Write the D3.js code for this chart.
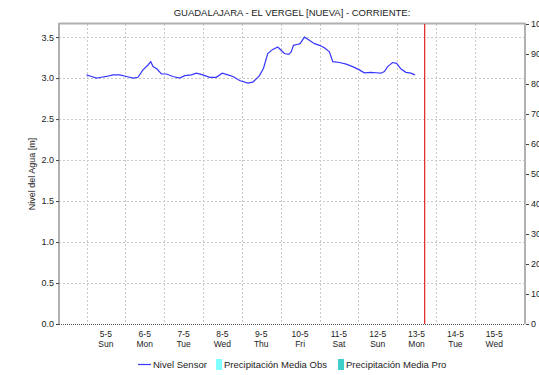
<!DOCTYPE html>
<html>
<head>
<meta charset="utf-8">
<script src="https://cdn.jsdelivr.net/npm/d3@7"></script>
<style>
  body { margin: 0; background: #fff; }
  text { font-family: "Liberation Sans", Arial, sans-serif; fill: #222; }
</style>
</head>
<body>
<div id="chart"></div>
<script>
// horas desde 5-5 00:00, nivel en metros
var horas = [0, 3.1, 6.2, 9.3, 12.3, 16.4, 20.5, 24.7, 28.8, 31.8, 34.9, 38.0, 39.7, 41.1, 43.6, 46.3,
  49.4, 53.4, 57.6, 60.7, 64.8, 67.9, 71.9, 76.1, 80.2, 83.9, 87.4, 90.5, 94.6, 99.7, 102.8,
  106.9, 109.4, 112.0, 115.1, 118.2, 120.3, 122.3, 125.0, 126.5, 127.9, 130.0, 132.0, 134.7,
  136.8, 140.9, 144.0, 147.0, 150.1, 152.2, 156.3, 160.5, 164.5, 168.6, 171.7, 175.8, 178.9,
  182.0, 184.1, 186.1, 189.2, 191.6, 194.4, 197.4, 200.5, 203.0];
var nivel = [3.04, 3.02, 3.00, 3.01, 3.02, 3.04, 3.04, 3.02, 3.00, 3.01, 3.10, 3.16, 3.20, 3.14, 3.11, 3.05,
  3.05, 3.02, 3.00, 3.03, 3.04, 3.06, 3.04, 3.01, 3.01, 3.06, 3.04, 3.02, 2.97, 2.94, 2.95,
  3.03, 3.12, 3.30, 3.35, 3.38, 3.34, 3.30, 3.29, 3.32, 3.40, 3.41, 3.42, 3.50,
  3.475, 3.42, 3.40, 3.37, 3.32, 3.20, 3.19, 3.17, 3.14, 3.10, 3.065, 3.07, 3.065,
  3.06, 3.08, 3.14, 3.19, 3.18, 3.11, 3.07, 3.06, 3.04];

var dias = ["5-5", "6-5", "7-5", "8-5", "9-5", "10-5", "11-5", "12-5", "13-5", "14-5", "15-5"];
var diasSemana = ["Sun", "Mon", "Tue", "Wed", "Thu", "Fri", "Sat", "Sun", "Mon", "Tue", "Wed"];
var ticksIzq = [0, 0.5, 1.0, 1.5, 2.0, 2.5, 3.0, 3.5];
var ticksDer = [0, 10, 20, 30, 40, 50, 60, 70, 80, 90, 100];
var inicioHoras = -17, finHoras = 271, ahoraHoras = 209;

var legendItems = ["Nivel Sensor", "Precipitación Media Obs", "Precipitación Media Pro"];

var margin = {top: 24, right: 14, bottom: 51, left: 59},
    width = 539 - margin.left - margin.right,
    height = 375 - margin.top - margin.bottom;

var x = d3.scaleLinear().domain([inicioHoras, finHoras]).range([0, width]);
var y = d3.scaleLinear().domain([0, 3.66]).range([height, 0]);
var y2 = d3.scaleLinear().domain([0, 100]).range([height, 0]);

var svg = d3.select("#chart").append("svg")
    .attr("width", 539)
    .attr("height", 375);

var g = svg.append("g")
    .attr("transform", "translate(" + margin.left + "," + margin.top + ")");

// grid
g.selectAll(".vgrid")
    .data(dias)
    .enter().append("line")
    .attr("x1", function(d, i) { return Math.round(x(i * 24)) + 0.5; })
    .attr("x2", function(d, i) { return Math.round(x(i * 24)) + 0.5; })
    .attr("y1", 0)
    .attr("y2", height)
    .style("stroke", "#c8c8c8")
    .style("stroke-dasharray", "2,2");

g.selectAll(".hgrid")
    .data(ticksIzq.slice(1))
    .enter().append("line")
    .attr("x1", 0)
    .attr("x2", width)
    .attr("y1", function(d) { return Math.round(y(d)) + 0.5; })
    .attr("y2", function(d) { return Math.round(y(d)) + 0.5; })
    .style("stroke", "#c8c8c8")
    .style("stroke-dasharray", "2,2");

// frame
g.append("line").attr("x1", 0).attr("x2", width).attr("y1", -0.5).attr("y2", -0.5)
    .style("stroke", "#b0b0b0").style("stroke-width", 2);
g.append("line").attr("x1", 0).attr("x2", 0).attr("y1", -1).attr("y2", height)
    .style("stroke", "#b0b0b0").style("stroke-width", 2);
g.append("line").attr("x1", width).attr("x2", width).attr("y1", -1).attr("y2", height)
    .style("stroke", "#b0b0b0").style("stroke-width", 2);
g.append("line").attr("x1", 0).attr("x2", width).attr("y1", height + 0.5).attr("y2", height + 0.5)
    .style("stroke", "#555").style("stroke-dasharray", "1,1");

// left axis
var yAxis = g.append("g")
    .call(d3.axisLeft(y).tickValues(ticksIzq).tickFormat(d3.format(".1f")).tickSize(3).tickPadding(2));
yAxis.select(".domain").remove();
yAxis.selectAll("line").style("stroke", "#444");
yAxis.selectAll("text").style("font-size", "9px").style("fill", "#222")
    .style("font-family", "'Liberation Sans', Arial, sans-serif");

// right axis
var yAxis2 = g.append("g")
    .attr("transform", "translate(" + (width + 1) + ",0)")
    .call(d3.axisRight(y2).tickValues(ticksDer).tickSize(3).tickPadding(2));
yAxis2.select(".domain").remove();
yAxis2.selectAll("line").style("stroke", "#444");
yAxis2.selectAll("text").style("font-size", "9px").style("fill", "#222")
    .style("font-family", "'Liberation Sans', Arial, sans-serif");

// x labels
g.selectAll(".xlab")
    .data(dias)
    .enter().append("text")
    .attr("x", function(d, i) { return x(i * 24 + 12); })
    .attr("y", height + 13)
    .attr("text-anchor", "middle")
    .style("font-size", "8.5px")
    .text(function(d) { return d; });

g.selectAll(".xlab2")
    .data(diasSemana)
    .enter().append("text")
    .attr("x", function(d, i) { return x(i * 24 + 12); })
    .attr("y", height + 23)
    .attr("text-anchor", "middle")
    .style("font-size", "8.5px")
    .text(function(d) { return d; });

// nivel
var serie = horas.map(function(h, i) { return {h: h, v: nivel[i]}; });
var linea = d3.line()
    .x(function(d) { return x(d.h); })
    .y(function(d) { return y(d.v); });

g.append("path")
    .datum(serie)
    .attr("d", linea)
    .style("fill", "none")
    .style("stroke", "#3636ff")
    .style("stroke-width", 1.2);

// ahora
g.append("line")
    .attr("x1", x(ahoraHoras)).attr("x2", x(ahoraHoras))
    .attr("y1", 0).attr("y2", height)
    .style("stroke", "#e02020")
    .style("stroke-width", 1.2);

// title
svg.append("text")
    .attr("x", margin.left + width / 2)
    .attr("y", 16)
    .attr("text-anchor", "middle")
    .style("font-size", "9.5px")
    .text("GUADALAJARA - EL VERGEL [NUEVA] - CORRIENTE:");

svg.append("text")
    .attr("transform", "translate(35," + (margin.top + height / 2) + ") rotate(-90)")
    .attr("text-anchor", "middle")
    .style("font-size", "9px")
    .text("Nivel del Agua [m]");

// legend
var lg = svg.append("g").attr("transform", "translate(0,364)");
lg.append("line").attr("x1", 138).attr("x2", 151).attr("y1", 0.5).attr("y2", 0.5)
    .style("stroke", "#3636ff").style("stroke-width", 1.2);
lg.append("text").attr("x", 153).attr("y", 4).style("font-size", "9.5px").text(legendItems[0]);
lg.append("rect").attr("x", 216).attr("y", -5).attr("width", 6).attr("height", 11).style("fill", "#80ffff");
lg.append("text").attr("x", 224).attr("y", 4).style("font-size", "9.5px").text(legendItems[1]);
lg.append("rect").attr("x", 338).attr("y", -5).attr("width", 6).attr("height", 11).style("fill", "#40cfc8");
lg.append("text").attr("x", 346).attr("y", 4).style("font-size", "9.5px").text(legendItems[2]);
</script>
</body>
</html>
